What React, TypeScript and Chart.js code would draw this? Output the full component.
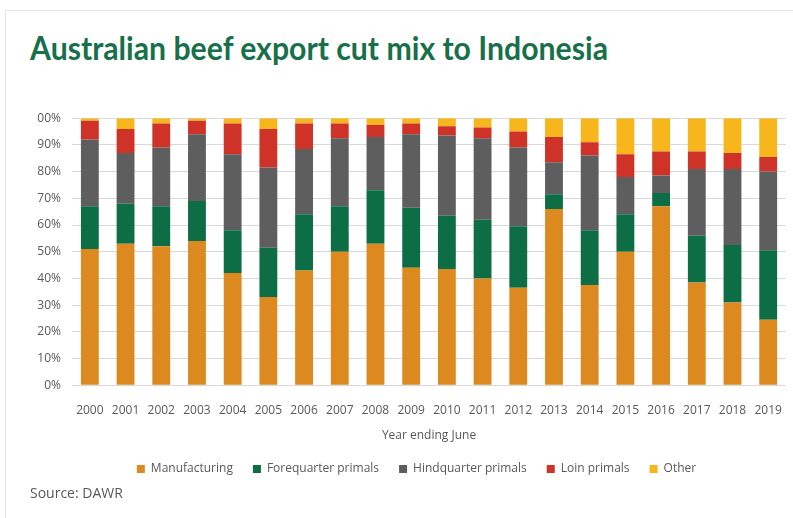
import React, { useEffect, useRef } from "react";
import { Chart, registerables } from "chart.js";

Chart.register(...registerables);

const years = ["2000","2001","2002","2003","2004","2005","2006","2007","2008","2009","2010","2011","2012","2013","2014","2015","2016","2017","2018","2019"];
const manufacturing = [51,53,52,54,42,33,43,50,53,44,43.5,40,36.5,66,37.5,50,67,38.5,31,24.5];
const forequarter = [16,15,15,15,16,18.5,21,17,20,22.5,20,22,23,5.5,20.5,14,5,17.5,21.5,26];
const hindquarter = [25,19,22,25,28.5,30,24.5,25.5,20,27.5,30,30.5,29.5,12,28,14,6.5,25,28.5,29.5];
const loin = [7,9,9,5,11.5,14.5,9.5,5.5,4.5,4,3.5,4,6,9.5,5,8.5,9,6.5,6,5.5];
const other = [1,4,2,1,2,4,2,2,2.5,2,3,3.5,5,7,9,13.5,12.5,12.5,13,14.5];
const seriesNames = ["Manufacturing","Forequarter primals","Hindquarter primals","Loin primals","Other"];
const seriesColors = ["#DC8A1F","#0D6E45","#5E5E5E","#CF3327","#F6B61C"];

const FONT = "'Open Sans', 'DejaVu Sans', sans-serif";

export default function App() {
  const canvasRef = useRef<HTMLCanvasElement | null>(null);
  const titleRef = useRef<HTMLSpanElement | null>(null);

  useEffect(() => {
    if (titleRef.current) {
      const w = titleRef.current.getBoundingClientRect().width;
      titleRef.current.style.transform = `scaleX(${578 / w})`;
    }
    const ctx = canvasRef.current!;
    const values = [manufacturing, forequarter, hindquarter, loin, other];
    const chart = new Chart(ctx, {
      type: "bar",
      data: {
        labels: years,
        datasets: values.map((d, i) => ({
          label: seriesNames[i],
          data: d,
          backgroundColor: seriesColors[i],
          borderWidth: 0,
          barPercentage: 0.5,
          categoryPercentage: 1,
        })),
      },
      options: {
        animation: false,
        responsive: false,
        devicePixelRatio: 1,
        layout: { padding: { left: 36, right: 3, top: 12, bottom: 2 } },
        plugins: {
          legend: {
            position: "bottom",
            labels: {
              boxWidth: 8,
              boxHeight: 8,
              padding: 20,
              color: "#595959",
              font: { family: FONT, size: 12 },
            },
          },
          tooltip: { enabled: false },
          title: { display: false },
        },
        scales: {
          x: {
            stacked: true,
            grid: { display: false, drawTicks: false },
            border: { display: false },
            ticks: { color: "#595959", font: { family: FONT, size: 12 }, padding: 18, maxRotation: 0, autoSkip: false },
            title: { display: true, text: "Year ending June", color: "#595959", font: { family: FONT, size: 12 }, padding: { top: -7, bottom: 0 } },
          },
          y: {
            stacked: true,
            min: 0,
            max: 100,
            grid: { color: "#D9D9D9", drawTicks: false },
            border: { display: false },
            ticks: {
              stepSize: 10,
              color: "#595959",
              font: { family: FONT, size: 12 },
              padding: 11,
              callback: (v: any) => v + "%",
            },
            afterFit: (s: any) => { s.width = 36; },
          },
        },
      },
    });
    return () => chart.destroy();
  }, []);

  return (
    <div style={{ position: "fixed", left: 0, top: 0, width: 793, height: 518, overflow: "hidden", background: "#fff" }}>
      <div style={{ position: "absolute", left: 5, top: 10, width: 900, height: 600, border: "1px solid #E7E7E0" }} />
      <div style={{ position: "absolute", left: 30, top: 27, whiteSpace: "nowrap" }}>
        <span ref={titleRef} style={{ display: "inline-block", transformOrigin: "left center", fontFamily: "Lato, 'Open Sans', sans-serif", fontWeight: 700, fontSize: 33, color: "#17704A", lineHeight: "40px" }}>
          Australian beef export cut mix to Indonesia
        </span>
      </div>
      <canvas ref={canvasRef} width={800} height={387} style={{ position: "absolute", left: 0, top: 100, width: 800, height: 387 }} />
      <div style={{ position: "absolute", left: 30, top: 483, fontFamily: FONT, fontSize: 14, color: "#595959" }}>Source: DAWR</div>
    </div>
  );
}
